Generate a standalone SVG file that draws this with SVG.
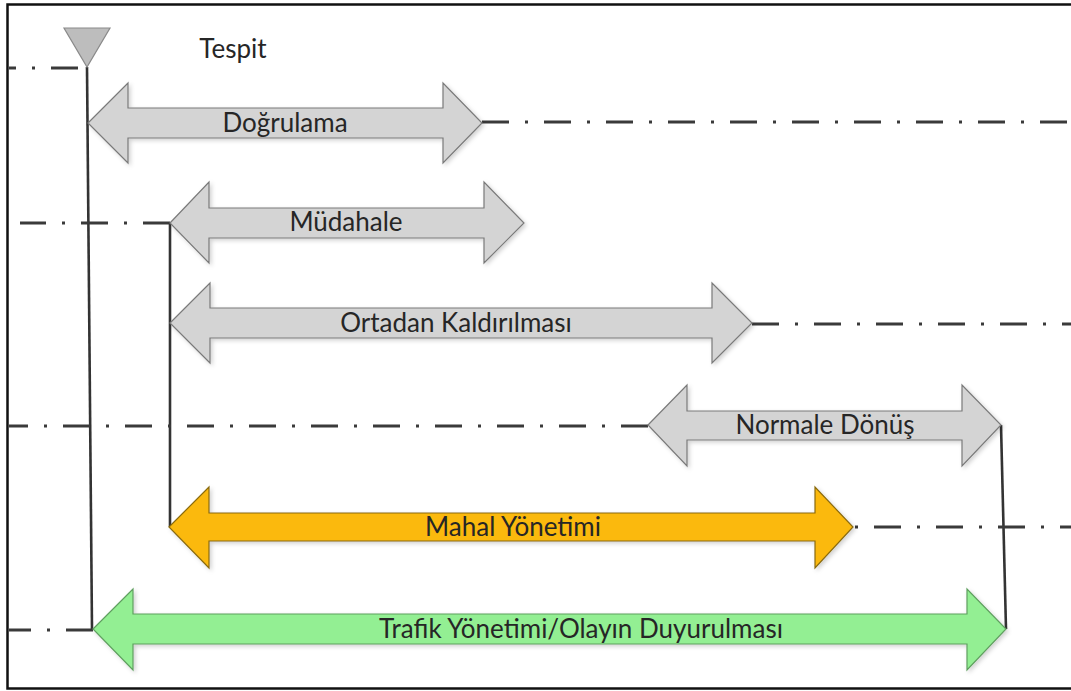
<svg xmlns="http://www.w3.org/2000/svg" width="1071" height="691" viewBox="0 0 1071 691">
  <style>
    .frame { fill: #ffffff; stroke: #111111; stroke-width: 2.5; }
    .arrow { stroke-width: 1.2; stroke-linejoin: miter; filter: url(#shadow); }
    .grey { fill: #d4d4d4; stroke: #7a7a7a; }
    .gold { fill: #fbb90a; stroke: #8a6a10; }
    .green { fill: #93ef93; stroke: #5f9f5f; }
    .label { font-family: Lato, "Open Sans", "Liberation Sans", sans-serif; font-size: 26px; fill: #262626; text-anchor: middle; }
    .dashdot { fill: none; stroke: #3a3a3a; stroke-width: 3; stroke-dasharray: 27 16 3 16; }
    .solid { fill: none; stroke: #333333; stroke-width: 2.6; }
  </style>
  <defs>
    <filter id="shadow" x="-5%" y="-20%" width="110%" height="140%">
      <feDropShadow dx="2" dy="2" stdDeviation="2" flood-color="#000000" flood-opacity="0.18"/>
    </filter>
  </defs>

  <rect class="frame" x="7.5" y="4.5" width="1070" height="684"/>

  <!-- timeline connectors -->
  <g id="connectors">
    <path class="dashdot" d="M78 68 H9"/>
    <path class="solid" d="M87 67 L92 629"/>
    <path class="dashdot" d="M482 122 H1071"/>
    <path class="dashdot" d="M170 223 H20"/>
    <path class="solid" d="M170 223 V527"/>
    <path class="dashdot" d="M752 324 H1071"/>
    <path class="dashdot" d="M648 426 H9"/>
    <path class="solid" d="M1001 425 L1006 629"/>
    <path class="dashdot" stroke-dashoffset="41" d="M853 527 H1071"/>
    <path class="dashdot" d="M93 630 H9"/>
  </g>

  <g id="tespit">
    <polygon points="64,28 110,28 87,67" fill="#bdbdbd" stroke="#8a8a8a" stroke-width="1.2"/>
    <text class="label" x="233" y="58">Tespit</text>
  </g>

  <g id="dogrulama">
    <polygon class="arrow grey" points="88,123 128,83 128,108 443,108 443,83 482,123 443,163 443,138 128,138 128,163"/>
    <text class="label" x="285" y="132">Doğrulama</text>
  </g>

  <g id="mudahale">
    <polygon class="arrow grey" points="170,223 209,182 209,208 484,208 484,182 524,223 484,263 484,238 209,238 209,263"/>
    <text class="label" x="346" y="231">Müdahale</text>
  </g>

  <g id="ortadan-kaldirilmasi">
    <polygon class="arrow grey" points="170,323 210,283 210,308 712,308 712,283 752,323 712,363 712,338 210,338 210,363"/>
    <text class="label" x="456" y="332">Ortadan Kaldırılması</text>
  </g>

  <g id="normale-donus">
    <polygon class="arrow grey" points="648,425 687,385 687,411 962,411 962,385 1001,425 962,466 962,440 687,440 687,466"/>
    <text class="label" x="825" y="434">Normale Dönüş</text>
  </g>

  <g id="mahal-yonetimi">
    <polygon class="arrow gold" points="169,527 209,487 209,513 815,513 815,487 853,527 815,568 815,541 209,541 209,568"/>
    <text class="label" x="513" y="536">Mahal Yönetimi</text>
  </g>

  <g id="trafik-yonetimi">
    <polygon class="arrow green" points="93,629 133,589 133,614 967,614 967,589 1006,629 967,670 967,644 133,644 133,670"/>
    <text class="label" x="581" y="638">Trafik Yönetimi/Olayın Duyurulması</text>
  </g>
</svg>
